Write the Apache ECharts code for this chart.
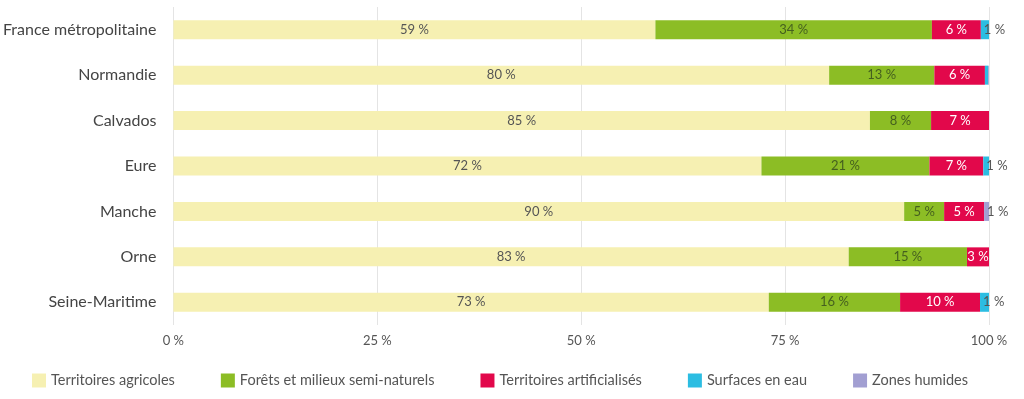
<!DOCTYPE html>
<html>
<head>
<meta charset="utf-8">
<script src="https://cdn.jsdelivr.net/npm/echarts@6/dist/echarts.min.js"></script>
<style>
  html, body { margin: 0; padding: 0; background: #fff; }
  #chart { width: 1024px; height: 399px; }
</style>
</head>
<body>
<div id="chart"></div>
<script>
// territoires (du haut vers le bas)
var territoires = ["France métropolitaine", "Normandie", "Calvados", "Eure", "Manche", "Orne", "Seine-Maritime"];

// part de la surface, en %
var agricoles = [59.1, 80.4, 85.4, 72.1, 89.6, 82.8, 73.0];
var forets = [33.9, 12.9, 7.5, 20.6, 4.9, 14.5, 16.1];
var artificialises = [6.0, 6.2, 7.1, 6.6, 4.9, 2.7, 9.8];
var eau = [1.0, 0.4, 0, 0.7, 0, 0, 1.1];
var humides = [0, 0.1, 0, 0, 0.6, 0, 0];

var ticks = [0, 25, 50, 75, 100];

var font = "Lato, 'Open Sans', sans-serif";

function pct(p) {
  var v = Math.round(p.value);
  return v > 0 ? v + " %" : "";
}

function serie(name, data, color, labelColor, pos) {
  return {
    name: name,
    type: "bar",
    stack: "total",
    barWidth: 19,
    data: data,
    itemStyle: { color: color },
    label: {
      show: true,
      position: pos || "inside",
      distance: 3,
      color: labelColor,
      fontFamily: font,
      fontSize: 13,
      formatter: pct
    },
    emphasis: { disabled: true }
  };
}

var myChart = echarts.init(document.getElementById("chart"));
var option = {
  animation: false,
  grid: { left: 172, right: 35, top: 7, bottom: 74 },
  xAxis: {
    type: "value",
    min: 0,
    max: 100,
    interval: 25,
    axisLine: { show: false },
    axisTick: { show: false },
    splitLine: { lineStyle: { color: "#e4e4e4" } },
    axisLabel: {
      margin: 9,
      color: "#555",
      fontFamily: font,
      fontSize: 13,
      formatter: function (v) { return ticks.indexOf(v) >= 0 ? v + " %" : ""; }
    }
  },
  yAxis: {
    type: "category",
    inverse: true,
    data: territoires,
    axisLine: { show: false },
    axisTick: { show: false },
    axisLabel: { margin: 17, color: "#444", fontFamily: font, fontSize: 16 }
  },
  legend: {
    top: 368,
    left: 27,
    itemWidth: 14,
    itemHeight: 14,
    itemGap: 46,
    icon: "rect",
    textStyle: { color: "#555", fontFamily: font, fontSize: 14.5 },
    selectedMode: false
  },
  series: [
    serie("Territoires agricoles", agricoles, "#f6f0b2", "#555"),
    serie("Forêts et milieux semi-naturels", forets, "#8cbd25", "#45601f"),
    serie("Territoires artificialisés", artificialises, "#e2084b", "#fff"),
    serie("Surfaces en eau", eau, "#2cbde2", "#555", "insideLeft"),
    serie("Zones humides", humides, "#a29fd2", "#555", "insideLeft")
  ]
};
myChart.setOption(option);
window.onresize = myChart.resize;
</script>
</body>
</html>
